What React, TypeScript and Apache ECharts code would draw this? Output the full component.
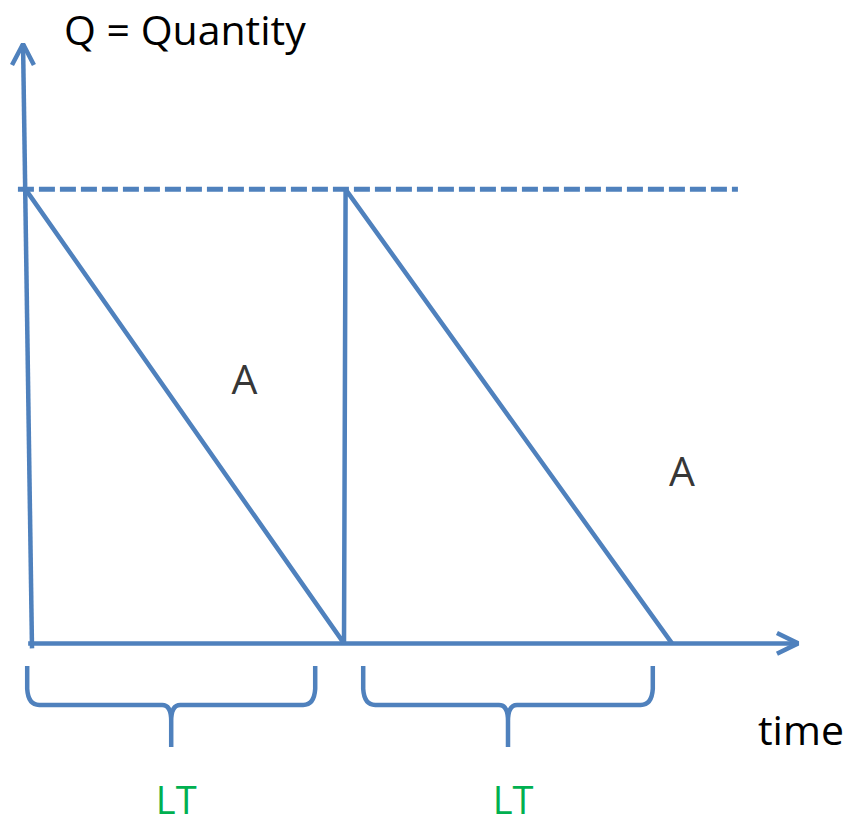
import React, { useEffect, useRef } from "react";
import * as echarts from "echarts";

// Economic order quantity sawtooth diagram (time units on x, quantity on y)
const sawtooth: [number, number][] = [
  [-0.2, 100],
  [9.75, 0],
  [9.8, 100],
  [20, 0],
];
const reorderLevelLine: [number, number][] = [
  [-0.44, 100],
  [22.06, 100],
];
const timeAxisLine: [number, number][] = [
  [-0.12, 0],
  [23.94, 0],
];
const timeAxisArrow: [number, number][] = [
  [23.28, 2.3],
  [23.94, 0],
  [23.28, -2.3],
];
const qtyAxisLine: [number, number][] = [
  [0, -1.1],
  [-0.28, 132],
];
const qtyAxisArrow: [number, number][] = [
  [-0.625, 127.4],
  [-0.28, 132],
  [0.06, 127.4],
];
const leadTimeSpans: [number, number][] = [
  [-0.15, 8.85],
  [10.35, 19.4],
];
const leadTimeLabels = ["LT", "LT"];
const areaLabelPoints: [number, number][] = [
  [6.64, 58.46],
  [20.31, 38.19],
];
const areaLabels = ["A", "A"];
const yTitle = "Q = Quantity";
const xTitle = "time";

const BLUE = "#4F81BD";
const GREEN = "#00B050";
const FONT = "'Open Sans', 'Liberation Sans', sans-serif";

export default function App() {
  const ref = useRef<HTMLDivElement>(null);

  useEffect(() => {
    if (!ref.current) return;
    const chart = echarts.init(ref.current, null, { renderer: "svg" });

    const lineSeries = (data: [number, number][], extra: any = {}) => ({
      type: "line",
      data,
      showSymbol: false,
      symbol: "none",
      silent: true,
      lineStyle: { color: BLUE, width: 4.5, ...extra },
      z: 2,
    });

    const option: any = {
      animation: false,
      backgroundColor: "#ffffff",
      grid: { left: 0, right: 0, top: 0, bottom: 0 },
      xAxis: {
        type: "value",
        min: -1,
        max: 25.625,
        show: false,
        splitLine: { show: false },
      },
      yAxis: {
        type: "value",
        min: -40,
        max: 141.7,
        show: false,
        splitLine: { show: false },
      },
      graphic: [
        {
          type: "text",
          x: 64,
          y: 28.5,
          style: {
            text: yTitle,
            font: `41px ${FONT}`,
            lineHeight: 41,
            fill: "#000",
            verticalAlign: "middle",
          },
        },
        {
          type: "text",
          x: 758,
          y: 729,
          style: {
            text: xTitle,
            font: `41px ${FONT}`,
            lineHeight: 41,
            fill: "#000",
            verticalAlign: "middle",
          },
        },
      ],
      series: [
        lineSeries(reorderLevelLine, { type: [16, 5], width: 5 }),
        lineSeries(qtyAxisLine),
        lineSeries(qtyAxisArrow),
        lineSeries(timeAxisLine),
        lineSeries(timeAxisArrow),
        lineSeries(sawtooth),
        {
          type: "custom",
          silent: true,
          clip: false,
          data: leadTimeSpans.map((s) => [s[0], s[1], 0]),
          encode: { x: [0, 1], y: 2 },
          renderItem: (params: any, api: any) => {
            const p0 = api.coord([api.value(0), 0]);
            const p1 = api.coord([api.value(1), 0]);
            const L = p0[0];
            const R = p1[0];
            const C = (L + R) / 2;
            const base = p0[1];
            const top = base + 22.6;
            const mid = base + 61.6;
            const tip = base + 103.6;
            const r = 12;
            const d = [
              `M${L},${top}`,
              `L${L},${mid - r - 4}`,
              `Q${L + 1},${mid} ${L + r},${mid}`,
              `L${C - 9},${mid}`,
              `Q${C},${mid} ${C},${mid + 16}`,
              `L${C},${tip}`,
              `M${C},${mid + 16}`,
              `Q${C},${mid} ${C + 9},${mid}`,
              `L${R - r},${mid}`,
              `Q${R - 1},${mid} ${R},${mid - r - 4}`,
              `L${R},${top}`,
            ].join(" ");
            return {
              type: "group",
              children: [
                {
                  type: "path",
                  shape: { pathData: d },
                  style: { stroke: BLUE, lineWidth: 4.5, fill: "none" },
                },
                {
                  type: "text",
                  x: C + 5,
                  y: base + 155.5,
                  style: {
                    text: leadTimeLabels[params.dataIndex],
                    font: `38px ${FONT}`,
                    lineHeight: 38,
                    fill: GREEN,
                    align: "center",
                    verticalAlign: "middle",
                  },
                },
              ],
            };
          },
        },
        {
          type: "scatter",
          silent: true,
          data: areaLabelPoints,
          symbolSize: 0.1,
          itemStyle: { color: "rgba(0,0,0,0)" },
          label: {
            show: true,
            position: "inside",
            formatter: (p: any) => areaLabels[p.dataIndex],
            fontFamily: FONT,
            fontSize: 41,
            lineHeight: 41,
            color: "#000000",
            textBorderWidth: 0,
          },
        },
      ],
    };

    chart.setOption(option);
    return () => chart.dispose();
  }, []);

  return (
    <div
      ref={ref}
      style={{ position: "absolute", left: 0, top: 0, width: 852, height: 825 }}
    />
  );
}
